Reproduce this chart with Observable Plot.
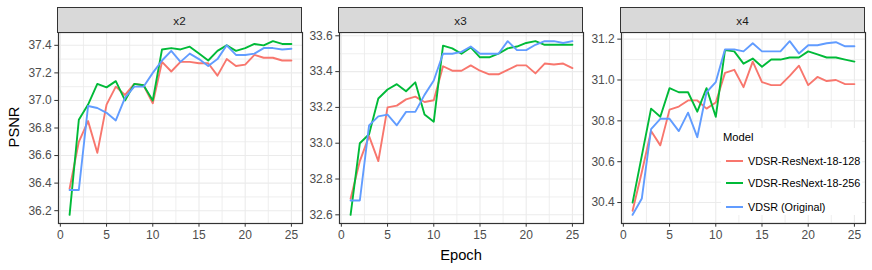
<!DOCTYPE html>
<html><head><meta charset="utf-8">
<script src="https://cdn.jsdelivr.net/npm/d3@7"></script>
<script src="https://cdn.jsdelivr.net/npm/@observablehq/plot@0.6"></script>
<style>
body{margin:0;background:#fff;font-family:"Liberation Sans",Arial,sans-serif;}
#chart{position:relative;width:872px;height:270px;overflow:hidden;background:#fff;}
.strip{position:absolute;background:#D9D9D9;border:1px solid #333;box-sizing:border-box;display:flex;align-items:center;justify-content:center;font-size:11.7px;color:#1A1A1A;}
.pan{position:absolute;}
.title{position:absolute;font-size:14.7px;color:#000;white-space:nowrap;}
#legend{position:absolute;left:721px;top:128px;width:141px;height:87px;background:#fff;}
#legend .lt{position:absolute;left:2px;top:3px;font-size:11.2px;color:#000;}
#legend .key{position:absolute;left:5px;width:17px;height:0;border-top:2px solid;}
#legend .lab{position:absolute;left:27px;font-size:10.8px;color:#000;white-space:nowrap;line-height:14px;}
</style></head><body><div id="chart"></div>
<script>
const epochs = [1,2,3,4,5,6,7,8,9,10,11,12,13,14,15,16,17,18,19,20,21,22,23,24,25];
const models = ["VDSR-ResNext-18-128","VDSR-ResNext-18-256","VDSR (Original)"];
const colors = ["#F8766D","#00BA38","#619CFF"];
const facets = ["x2","x3","x4"];

// x2
const x2_r128 = [36.36,36.70,36.85,36.62,36.97,37.10,37.04,37.12,37.11,36.98,37.28,37.21,37.28,37.28,37.27,37.27,37.18,37.30,37.25,37.26,37.33,37.31,37.31,37.29,37.29];
const x2_r256 = [36.17,36.86,36.97,37.12,37.095,37.14,37.00,37.12,37.11,37.00,37.37,37.38,37.37,37.39,37.34,37.29,37.36,37.40,37.36,37.38,37.41,37.40,37.43,37.41,37.41];
const x2_vdsr = [36.35,36.35,36.96,36.945,36.91,36.855,37.02,37.10,37.10,37.20,37.29,37.36,37.28,37.34,37.30,37.25,37.30,37.40,37.33,37.33,37.34,37.38,37.38,37.37,37.375];
// x3
const x3_r128 = [32.69,32.90,33.04,32.90,33.20,33.21,33.245,33.26,33.23,33.24,33.43,33.405,33.405,33.435,33.405,33.385,33.385,33.41,33.435,33.435,33.39,33.445,33.44,33.445,33.42];
const x3_r256 = [32.60,33.00,33.05,33.25,33.30,33.33,33.29,33.34,33.16,33.12,33.545,33.53,33.50,33.535,33.48,33.48,33.50,33.53,33.54,33.56,33.57,33.55,33.55,33.55,33.55];
const x3_vdsr = [32.68,32.68,33.10,33.15,33.16,33.10,33.175,33.175,33.27,33.35,33.50,33.50,33.51,33.54,33.50,33.50,33.50,33.57,33.52,33.52,33.55,33.57,33.57,33.56,33.57];
// x4
const x4_r128 = [30.36,30.55,30.75,30.68,30.855,30.87,30.90,30.90,30.86,30.89,31.035,31.05,30.965,31.09,30.99,30.975,30.975,31.02,31.07,30.975,31.015,30.995,31.00,30.98,30.98];
const x4_r256 = [30.40,30.63,30.86,30.82,30.96,30.94,30.94,30.845,30.96,30.82,31.146,31.14,31.08,31.105,31.065,31.10,31.10,31.11,31.11,31.14,31.125,31.11,31.11,31.10,31.09];
const x4_vdsr = [30.34,30.42,30.76,30.81,30.81,30.75,30.84,30.72,30.94,30.99,31.15,31.15,31.14,31.18,31.14,31.14,31.14,31.19,31.13,31.17,31.17,31.18,31.185,31.165,31.165];

const xTicks = [0,5,10,15,20,25];
const xMinor = [2.5,7.5,12.5,17.5,22.5];
const yTicks_x2 = [36.2,36.4,36.6,36.8,37.0,37.2,37.4];
const yMinor_x2 = [36.3,36.5,36.7,36.9,37.1,37.3];
const yTicks_x3 = [32.6,32.8,33.0,33.2,33.4,33.6];
const yMinor_x3 = [32.7,32.9,33.1,33.3,33.5];
const yTicks_x4 = [30.4,30.6,30.8,31.0,31.2];
const yMinor_x4 = [30.3,30.5,30.7,30.9,31.1];

const panelLefts = [57.5, 338.5, 620.5];
const PW = 244, PH = 191, PT = 32;
const ML = 45, MR = 2, MT = 2, MB = 30;

const chart = document.getElementById("chart");

function expandDomain(vals){
  const [lo,hi] = d3.extent(vals);
  const r = hi - lo;
  return [lo - 0.05*r, hi + 0.05*r];
}

function makePanel(series, yt, ym){
  const data = [];
  models.forEach((m,i)=>series[i].forEach((v,j)=>data.push({epoch:epochs[j], psnr:v, model:m})));
  const xr = d3.extent(epochs), xd = [xr[0]-0.05*(xr[1]-xr[0]), xr[1]+0.05*(xr[1]-xr[0])];
  return Plot.plot({
    width: ML+PW+MR, height: MT+PH+MB,
    marginLeft: ML, marginRight: MR, marginTop: MT, marginBottom: MB,
    style: {fontFamily: '"Liberation Sans",Arial,sans-serif', fontSize: "12px", background: "transparent", overflow: "visible"},
    x: {domain: xd},
    y: {domain: expandDomain(data.map(d=>d.psnr))},
    color: {domain: models, range: colors},
    marks: [
      Plot.ruleX(xMinor, {stroke:"#EBEBEB", strokeWidth:0.8}),
      Plot.ruleY(ym, {stroke:"#EBEBEB", strokeWidth:0.8}),
      Plot.ruleX(xTicks, {stroke:"#EBEBEB", strokeWidth:1.1}),
      Plot.ruleY(yt, {stroke:"#EBEBEB", strokeWidth:1.1}),
      Plot.line(data, {x:"epoch", y:"psnr", stroke:"model", strokeWidth:1.9}),
      Plot.frame({stroke:"#333333", strokeWidth:1.2}),
      Plot.axisX({ticks: xTicks, tickSize: 3.7, tickPadding: 3, stroke:"#333333", fill:"#4D4D4D", fontSize: 12, label: null, tickFormat: d=>String(d)}),
      Plot.axisY({ticks: yt, tickSize: 3.7, tickPadding: 3, stroke:"#333333", fill:"#4D4D4D", fontSize: 12, label: null, tickFormat: d3.format(".1f")})
    ]
  });
}

const allSeries = [
  [x2_r128, x2_r256, x2_vdsr],
  [x3_r128, x3_r256, x3_vdsr],
  [x4_r128, x4_r256, x4_vdsr]
];
const allTicks = [[yTicks_x2,yMinor_x2],[yTicks_x3,yMinor_x3],[yTicks_x4,yMinor_x4]];

facets.forEach((f,i)=>{
  const svg = makePanel(allSeries[i], allTicks[i][0], allTicks[i][1]);
  const wrap = document.createElement("div");
  wrap.className = "pan";
  wrap.style.left = (panelLefts[i]-ML)+"px";
  wrap.style.top = (PT-MT)+"px";
  wrap.appendChild(svg);
  chart.appendChild(wrap);
  const s = document.createElement("div");
  s.className = "strip";
  s.style.left = (panelLefts[i]-0.5)+"px";
  s.style.top = "7px";
  s.style.width = (PW+1)+"px";
  s.style.height = "26px";
  s.textContent = f;
  chart.appendChild(s);
});

// axis titles
const xt = document.createElement("div");
xt.className = "title"; xt.textContent = "Epoch";
xt.style.left = "461px"; xt.style.top = "255px"; xt.style.transform = "translate(-50%,-50%)";
chart.appendChild(xt);
const yt = document.createElement("div");
yt.className = "title"; yt.textContent = "PSNR";
yt.style.left = "14px"; yt.style.top = "127px"; yt.style.transform = "translate(-50%,-50%) rotate(-90deg)";
chart.appendChild(yt);

// legend
const lg = document.createElement("div");
lg.id = "legend";
const lt = document.createElement("div"); lt.className = "lt"; lt.textContent = "Model"; lg.appendChild(lt);
const rows = [32.5, 55, 78.5];
models.forEach((m,i)=>{
  const k = document.createElement("div"); k.className = "key";
  k.style.borderTopColor = colors[i]; k.style.top = (rows[i]-1)+"px"; lg.appendChild(k);
  const l = document.createElement("div"); l.className = "lab"; l.textContent = m;
  l.style.top = (rows[i]-7)+"px"; lg.appendChild(l);
});
chart.appendChild(lg);
</script></body></html>
